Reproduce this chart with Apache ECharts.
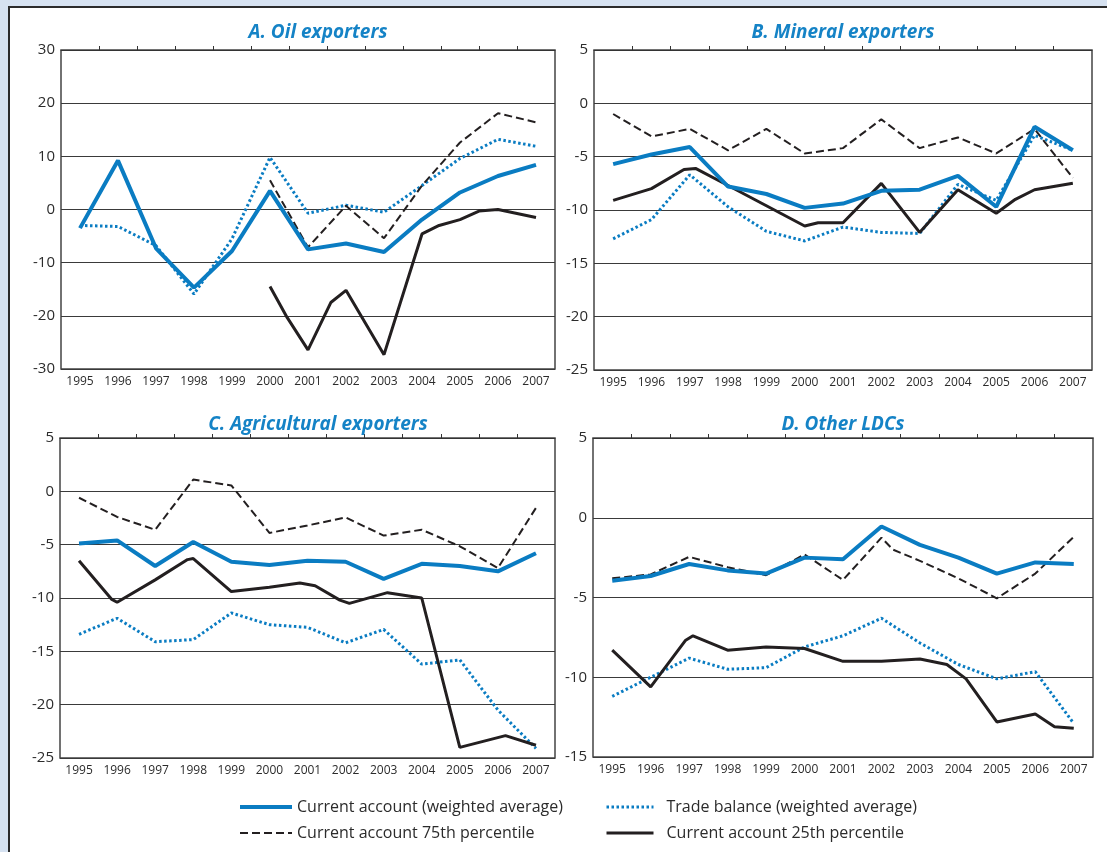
<!DOCTYPE html>
<html>
<head>
<meta charset="utf-8">
<script src="https://cdn.jsdelivr.net/npm/echarts@6/dist/echarts.min.js"></script>
<style>
  html, body { margin: 0; padding: 0; background: #d6e2f1; }
  #frame { position: absolute; left: 8px; top: 6px; width: 1099px; height: 846px; background: #fff; border-left: 2px solid #2b2b2b; border-top: 2px solid #2b2b2b; box-sizing: border-box; }
  #main { position: absolute; left: 0; top: 0; width: 1107px; height: 852px; }
</style>
</head>
<body>
<div id="frame"></div>
<div id="main"></div>
<script>
// years on the x axis
const years = [1995, 1996, 1997, 1998, 1999, 2000, 2001, 2002, 2003, 2004, 2005, 2006, 2007];

// A. Oil exporters
const oilCA  = [-3.5, 9.2, -7.3, -14.7, -7.8, 3.5, -7.5, -6.4, -8.0, -1.9, 3.2, 6.3, 8.4];
const oilTB  = [-3.0, -3.2, -6.8, -15.9, -5.5, 9.8, -0.7, 0.8, -0.5, 4.5, 9.6, 13.2, 11.9];
const oilP75 = [null, null, null, null, null, 5.5, -7.1, 0.7, -5.4, 4.5, 12.6, 18.1, 16.4];
const oilP25 = [[2000, -14.5], [2000.45, -20.3], [2001, -26.4], [2001.6, -17.5], [2002, -15.2], [2003, -27.3],
                [2004, -4.6], [2004.45, -3.0], [2005, -1.9], [2005.5, -0.3], [2006, 0], [2007, -1.5]];

// B. Mineral exporters
const minCA  = [-5.7, -4.8, -4.1, -7.8, -8.5, -9.8, -9.4, -8.2, -8.1, -6.8, -9.7, -2.2, -4.4];
const minTB  = [-12.7, -10.9, -6.7, -9.7, -12.0, -12.9, -11.6, -12.1, -12.2, -7.6, -9.1, -3.0, -4.4];
const minP75 = [-1.0, -3.1, -2.4, -4.4, -2.4, -4.7, -4.2, -1.5, -4.2, -3.2, -4.7, -2.4, -7.0];
const minP25 = [[1995, -9.1], [1996, -8.0], [1996.85, -6.2], [1997.15, -6.1], [1998, -7.7], [1999, -9.6],
                [2000, -11.5], [2000.35, -11.2], [2001, -11.2], [2002, -7.5], [2003, -12.1], [2004, -8.1],
                [2005, -10.3], [2005.5, -9.0], [2006, -8.1], [2007, -7.5]];

// C. Agricultural exporters
const agrCA  = [-4.9, -4.6, -7.0, -4.75, -6.6, -6.9, -6.5, -6.6, -8.2, -6.8, -7.0, -7.5, -5.8];
const agrTB  = [-13.4, -11.9, -14.1, -13.9, -11.4, -12.5, -12.75, -14.2, -12.95, -16.2, -15.8, -20.5, -24.1];
const agrP75 = [-0.6, -2.4, -3.6, 1.1, 0.55, -3.9, -3.2, -2.45, -4.15, -3.6, -5.15, -7.2, -1.55];
const agrP25 = [[1995, -6.5], [1995.85, -10.1], [1996, -10.4], [1997, -8.3], [1997.85, -6.4], [1998, -6.3],
                [1999, -9.4], [2000, -9.0], [2000.8, -8.6], [2001.2, -8.85], [2001.85, -10.2], [2002.1, -10.5],
                [2003.1, -9.5], [2004, -10.0], [2005, -24.0], [2006.2, -22.9], [2007, -23.8]];

// D. Other LDCs
const othCA  = [-3.95, -3.65, -2.9, -3.3, -3.5, -2.5, -2.6, -0.55, -1.7, -2.5, -3.5, -2.8, -2.9];
const othTB  = [-11.2, -10.0, -8.8, -9.5, -9.4, -8.1, -7.4, -6.3, -7.85, -9.2, -10.1, -9.65, -12.9];
const othP75 = [[1995, -3.8], [1996, -3.55], [1997, -2.45], [1998, -3.1], [1999, -3.6], [2000, -2.3], [2001, -3.9],
                [2002, -1.25], [2002.3, -2.0], [2003, -2.7], [2004, -3.8], [2005, -5.05], [2006, -3.5], [2007, -1.2]];
const othP25 = [[1995, -8.3], [1996, -10.6], [1996.9, -7.7], [1997.1, -7.4], [1998, -8.3], [1999, -8.1],
                [2000, -8.2], [2001, -9.0], [2002, -9.0], [2003, -8.85], [2003.7, -9.2], [2004.2, -10.1],
                [2005, -12.8], [2006, -12.3], [2006.5, -13.1], [2007, -13.2]];

const names = ['Current account (weighted average)', 'Trade balance (weighted average)',
               'Current account 75th percentile', 'Current account 25th percentile'];

const panels = [
  { title: 'A. Oil exporters', min: -30, max: 30, step: 10, ca: oilCA, tb: oilTB, p75: oilP75, p25: oilP25,
    grid: { left: 61, top: 50, width: 494, height: 319 }, tx: 313, ty: 18 },
  { title: 'B. Mineral exporters', min: -25, max: 5, step: 5, ca: minCA, tb: minTB, p75: minP75, p25: minP25,
    grid: { left: 594, top: 50, width: 498, height: 320 }, tx: 838, ty: 18 },
  { title: 'C. Agricultural exporters', min: -25, max: 5, step: 5, ca: agrCA, tb: agrTB, p75: agrP75, p25: agrP25,
    grid: { left: 60, top: 438, width: 495, height: 320 }, tx: 313, ty: 410 },
  { title: 'D. Other LDCs', min: -15, max: 5, step: 5, ca: othCA, tb: othTB, p75: othP75, p25: othP25,
    grid: { left: 593, top: 438, width: 500, height: 319 }, tx: 838, ty: 410 }
];

const blue = '#0a7cc2';
const dark = '#231f20';
const font = 'Open Sans';

// year list -> [x, y] pairs, pair lists are passed through
const pairs = (vals) => Array.isArray(vals[0]) ? vals : years.map((y, i) => [y, vals[i]]).filter(p => p[1] != null);

const option = {
  animation: false,
  title: [], grid: [], xAxis: [], yAxis: [], series: [],
  legend: [
    {
      data: [names[0], names[2]], orient: 'vertical', left: 233, top: 794, itemGap: 10,
      itemWidth: 52, itemHeight: 12, itemStyle: { opacity: 0 }, lineStyle: { width: 'inherit' },
      textStyle: { fontFamily: font, fontSize: 16, color: '#2b2b2b' }
    },
    {
      data: [names[1], names[3]], orient: 'vertical', left: 600, top: 794, itemGap: 10,
      itemWidth: 47, itemHeight: 12, itemStyle: { opacity: 0 }, lineStyle: { width: 'inherit' },
      textStyle: { fontFamily: font, fontSize: 16, color: '#2b2b2b', padding: [0, 0, 0, 8] }
    }
  ]
};

panels.forEach((p, i) => {
  option.title.push({
    text: p.title, left: p.tx, top: p.ty, textAlign: 'center',
    textStyle: { fontFamily: font, fontSize: 19, fontWeight: 'bold', fontStyle: 'italic', color: '#1583c6' }
  });
  option.grid.push(Object.assign({ show: true, borderColor: '#444', borderWidth: 1.5, backgroundColor: '#fff' }, p.grid));
  // labelled year axis at the bottom
  option.xAxis.push({
    gridIndex: i, type: 'value', min: 1994.5, max: 2007.5,
    axisLine: { show: false }, splitLine: { show: false }, axisTick: { show: false },
    axisLabel: { customValues: years, formatter: v => String(v), fontFamily: font, fontSize: 12, color: '#2b2b2b', margin: 7 }
  });
  // small ticks on the zero line
  option.xAxis.push({
    gridIndex: i, type: 'value', min: 1994.5, max: 2007.5,
    axisLine: { show: true, onZero: true, lineStyle: { color: '#333', width: 1 } },
    axisTick: { show: true, length: 4, customValues: years.slice(0, 12).map(y => y + 0.5), lineStyle: { color: '#333' } },
    axisLabel: { show: false }, splitLine: { show: false }
  });
  option.yAxis.push({
    gridIndex: i, type: 'value', min: p.min, max: p.max, interval: p.step,
    axisLine: { show: false }, axisTick: { show: false },
    axisLabel: { fontFamily: font, fontSize: 15, color: '#2b2b2b', margin: 6 },
    splitLine: { lineStyle: { color: '#3a3a3a', width: 1 } }
  });
  const common = { type: 'line', xAxisIndex: i * 2, yAxisIndex: i, symbol: 'none', z: 3 };
  option.series.push(
    Object.assign({}, common, { name: names[1], data: pairs(p.tb), lineStyle: { color: blue, width: 3, type: [2.5, 2.5] }, itemStyle: { color: blue } }),
    Object.assign({}, common, { name: names[2], data: pairs(p.p75), lineStyle: { color: dark, width: 2, type: [8, 4] }, itemStyle: { color: dark } }),
    Object.assign({}, common, { name: names[3], data: pairs(p.p25), lineStyle: { color: dark, width: 3 }, itemStyle: { color: dark } }),
    Object.assign({}, common, { name: names[0], data: pairs(p.ca), lineStyle: { color: blue, width: 4 }, itemStyle: { color: blue } })
  );
});

const chart = echarts.init(document.getElementById('main'));
chart.setOption(option);
</script>
</body>
</html>
